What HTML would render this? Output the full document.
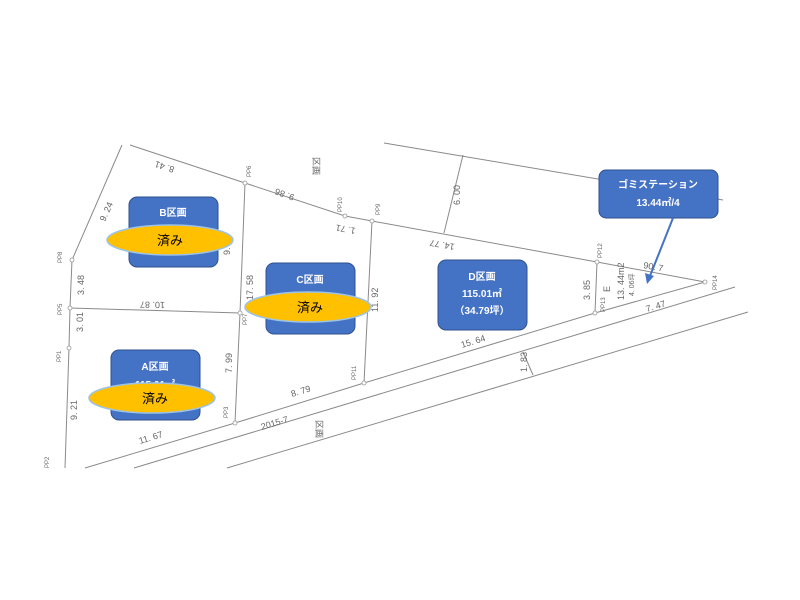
<!DOCTYPE html>
<html><head><meta charset="utf-8"><style>
body{margin:0;background:#fff;width:800px;height:600px;overflow:hidden;}
svg{display:block;font-family:"Liberation Sans","Noto Sans CJK JP",sans-serif;}
.t{font-size:9px;fill:#666;}
.s{font-size:6px;fill:#666;}
</style></head><body>
<svg width="800" height="600" viewBox="0 0 800 600">
<g stroke="#8a8a8a" stroke-width="1" fill="none">
<polyline points="130,145 245,183 345,216 372,221 597,262 705,282"/>
<polyline points="122,145 72,260 70,308 69,348 65,468"/>
<line x1="70" y1="308" x2="240" y2="313"/>
<polyline points="245,183 240,313 235,423"/>
<line x1="372" y1="221" x2="364" y2="383"/>
<polyline points="85,468 235,423 364,383 595,313 705,282"/>
<line x1="134" y1="468" x2="735" y2="287"/>
<line x1="227" y1="468" x2="748" y2="312"/>
<line x1="384" y1="143" x2="723" y2="200"/>
<line x1="463" y1="155" x2="444" y2="233"/>
<line x1="597" y1="262" x2="595" y2="313"/>
<line x1="523" y1="352" x2="533" y2="375"/>
</g>
<g fill="#fff" stroke="#999" stroke-width="0.8">
<circle cx="245" cy="183" r="2"/><circle cx="345" cy="216" r="2"/><circle cx="372" cy="221" r="2"/>
<circle cx="597" cy="262" r="2"/><circle cx="705" cy="282" r="2"/><circle cx="72" cy="260" r="2"/>
<circle cx="70" cy="308" r="2"/><circle cx="69" cy="348" r="2"/><circle cx="240" cy="313" r="2"/>
<circle cx="235" cy="423" r="2"/><circle cx="364" cy="383" r="2"/><circle cx="595" cy="313" r="2"/>
</g>
<g class="t">
<text transform="translate(175,167) rotate(198)">8. 41</text>
<text transform="translate(105,222) rotate(-66)">9. 24</text>
<text transform="translate(295,195) rotate(200)">9. 86</text>
<text transform="translate(356,228) rotate(190)">1. 71</text>
<text transform="translate(455,244) rotate(190)">14. 77</text>
<text transform="translate(460,205) rotate(-90)">6. 00</text>
<text transform="translate(84,295) rotate(-90)">3. 48</text>
<text transform="translate(165,302) rotate(181)">10. 87</text>
<text transform="translate(83,332) rotate(-90)">3. 01</text>
<text transform="translate(77,420) rotate(-90)">9. 21</text>
<text transform="translate(140,444) rotate(-17)">11. 67</text>
<text transform="translate(230,255) rotate(-90)">9. 38</text>
<text transform="translate(253,300) rotate(-90)">17. 58</text>
<text transform="translate(232,373) rotate(-90)">7. 99</text>
<text transform="translate(292,397) rotate(-17)">8. 79</text>
<text transform="translate(262,430) rotate(-17)">2015-7</text>
<text transform="translate(378,312) rotate(-90)">11. 92</text>
<text transform="translate(462,348) rotate(-17)">15. 64</text>
<text transform="translate(527,372) rotate(-90)">1. 83</text>
<text transform="translate(590,300) rotate(-90)">3. 85</text>
<text transform="translate(610,292) rotate(-90)">E</text>
<text transform="translate(624,300) rotate(-90)">13. 44m2</text>
<text transform="translate(634,296) rotate(-90)" style="font-size:7px">4. 06坪</text>
<text transform="translate(643,268) rotate(10)">90. 7</text>
<text transform="translate(647,312) rotate(-17)">7. 47</text>
<text transform="translate(313,157) rotate(90)">区画</text>
<text transform="translate(316,420) rotate(90)">区画</text>
</g>
<g class="s">
<text transform="translate(251,177) rotate(-90)">PP6</text>
<text transform="translate(342,212) rotate(-90)">PP10</text>
<text transform="translate(380,215) rotate(-90)">PP9</text>
<text transform="translate(602,258) rotate(-90)">PP12</text>
<text transform="translate(717,290) rotate(-90)">PP14</text>
<text transform="translate(62,263) rotate(-90)">PP8</text>
<text transform="translate(62,315) rotate(-90)">PP5</text>
<text transform="translate(61,362) rotate(-90)">PP1</text>
<text transform="translate(49,468) rotate(-90)">PP2</text>
<text transform="translate(247,325) rotate(-90)">PP7</text>
<text transform="translate(228,418) rotate(-90)">PP3</text>
<text transform="translate(356,380) rotate(-90)">PP11</text>
<text transform="translate(605,312) rotate(-90)">PP13</text>
</g>
<g fill="#4472c4" stroke="#2f528f" stroke-width="1">
<rect x="129" y="197" width="89" height="70" rx="8"/>
<rect x="266" y="263" width="89" height="71" rx="8"/>
<rect x="111" y="350" width="89" height="70" rx="8"/>
<rect x="438" y="260" width="89" height="70" rx="8"/>
<rect x="599" y="170" width="119" height="48" rx="7"/>
</g>
<g fill="#fff" font-size="10" font-weight="bold" text-anchor="middle">
<text x="173" y="216">B区画</text>
<text x="310" y="283">C区画</text>
<text x="155" y="370">A区画</text>
<text x="155" y="388">115.01㎡</text>
<text x="482" y="280">D区画</text>
<text x="482" y="297">115.01㎡</text>
<text x="482" y="314">（34.79坪）</text>
<text x="658" y="188">ゴミステーション</text>
<text x="658" y="206">13.44㎡/4</text>
</g>
<g fill="#ffc000" stroke="#9dc3e6" stroke-width="1.5">
<ellipse cx="170" cy="240" rx="63" ry="15"/>
<ellipse cx="308" cy="307" rx="63" ry="15"/>
<ellipse cx="152" cy="398" rx="63" ry="15"/>
</g>
<g fill="#000" font-size="13" text-anchor="middle">
<text x="170" y="245">済み</text>
<text x="310" y="312">済み</text>
<text x="155" y="403">済み</text>
</g>
<line x1="673" y1="218" x2="650" y2="276" stroke="#4472c4" stroke-width="2"/>
<polygon points="647,284 645,273 654,276" fill="#4472c4"/>
</svg>
</body></html>
